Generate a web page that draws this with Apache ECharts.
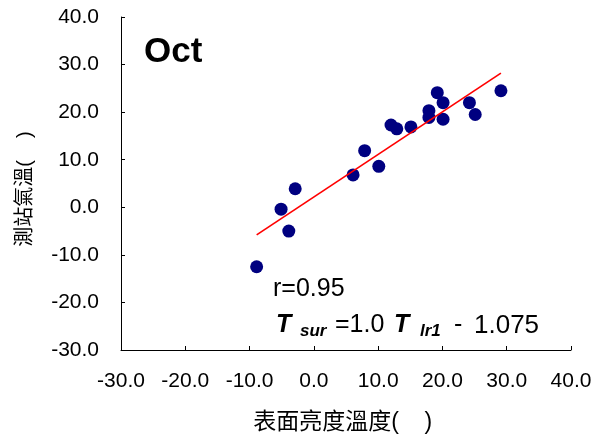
<!DOCTYPE html>
<html><head><meta charset="utf-8">
<script src="https://cdn.jsdelivr.net/npm/echarts@6/dist/echarts.min.js"></script>
<style>html,body{margin:0;padding:0;background:#fff}#c{width:601px;height:441px}</style>
</head><body><div id="c"></div>
<script>
var xValues = [-8.9, -5.1, -3.9, -2.9, 6.1, 7.9, 10.1, 12.0, 12.9, 15.1, 17.9, 17.9, 19.2, 20.1, 20.1, 24.2, 25.1, 29.1];
var yValues = [-12.5, -0.4, -5.0, 3.9, 6.8, 11.9, 8.6, 17.3, 16.5, 16.9, 20.3, 18.9, 24.1, 22.0, 18.5, 22.0, 19.5, 24.5];
var fitX = [-8.9, 29.1];
var fitY = [-5.8, 28.2];
var axisTicks = [-30, 40, 10];
var FONT = '"Liberation Sans", Arial, "Noto Sans CJK TC", sans-serif';

var points = xValues.map(function (x, i) { return [x, yValues[i]]; });
var fitLine = fitX.map(function (x, i) { return [x, fitY[i]]; });

var chart = echarts.init(document.getElementById('c'), null, {renderer: 'canvas'});
var axisCommon = {
  min: axisTicks[0], max: axisTicks[1], interval: axisTicks[2],
  axisLine: {onZero: false, lineStyle: {color: '#000', width: 1}},
  axisTick: {inside: true, length: 4, lineStyle: {color: '#000'}},
  splitLine: {show: false},
  axisLabel: {color: '#000', fontSize: 21, fontFamily: FONT, formatter: function (v) { return v.toFixed(1); }},
  nameLocation: 'middle'
};
function txt(left, top, text, font) {
  return {type: 'text', left: left, top: top, style: {text: text, font: font + ' ' + FONT, fill: '#000'}};
}
chart.setOption({
  animation: false,
  grid: {left: 121, right: 30, top: 17, bottom: 91},
  xAxis: Object.assign({}, axisCommon, {type: 'value', name: '表面亮度溫度(    ) ', nameGap: 61,
    nameTextStyle: {color: '#000', fontSize: 23, fontFamily: FONT},
    axisLabel: Object.assign({}, axisCommon.axisLabel, {margin: 21})}),
  yAxis: Object.assign({}, axisCommon, {type: 'value', name: '測站氣溫(    )  ', nameGap: 86,
    nameTextStyle: {color: '#000', fontSize: 20, fontFamily: FONT},
    axisLabel: Object.assign({}, axisCommon.axisLabel, {margin: 22})}),
  series: [
    {type: 'line', data: fitLine, symbol: 'none', lineStyle: {color: '#ff0000', width: 1.7}, z: 3},
    {type: 'scatter', data: points, symbolSize: 13, itemStyle: {color: '#000080', opacity: 1}, z: 2}
  ],
  graphic: [
    txt(144, 35, 'Oct', 'bold 35px'),
    txt(273, 277, 'r=0.95', '25px'),
    txt(276, 313, 'T', 'italic bold 25px'),
    txt(300, 323, 'sur', 'italic bold 17px'),
    txt(335, 313, '=1.0', '25px'),
    txt(394, 313, 'T', 'italic bold 25px'),
    txt(420, 323, 'lr1', 'italic bold 17px'),
    txt(454, 313, '-', '25px'),
    txt(474, 313, '1.075', '26px')
  ]
});
</script></body></html>
